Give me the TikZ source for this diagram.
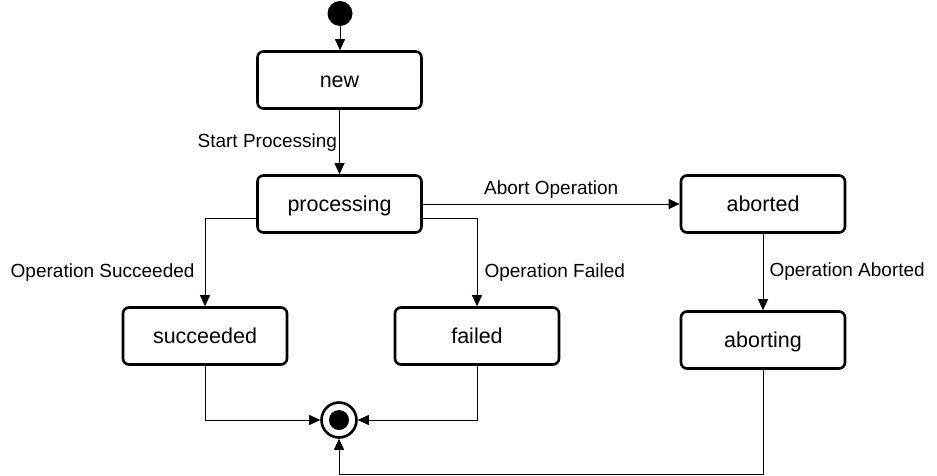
\documentclass[tikz,border=0pt]{standalone}
\usepackage{fontspec}
\setmainfont{Liberation Sans}
\usetikzlibrary{arrows.meta}
\begin{document}
\begin{tikzpicture}[x=1pt,y=-1pt,
  statebox/.style={draw=black, line width=2.6pt, rounded corners=6pt, fill=white,
    minimum width=164pt, minimum height=57pt, inner sep=0pt,
    text height=15pt, text depth=0pt,
    font=\fontsize{21.5}{25}\selectfont},
  conn/.style={draw=black, line width=1pt, -{Triangle[length=11pt,width=10pt]}},
  plain/.style={draw=black, line width=1pt},
  lbl/.style={font=\fontsize{19}{23}\selectfont, inner sep=0pt, text=black}]
\useasboundingbox (0,0) rectangle (937,475);
% initial and final
\node[circle, fill=black, minimum size=25pt, inner sep=0pt] (init) at (340,13.5) {};
\node[circle, draw=black, line width=2.6pt, minimum size=35pt, inner sep=0pt] (final) at (339,420) {};
\node[circle, fill=black, minimum size=20pt, inner sep=0pt] (finaldot) at (339,420) {};
% states
\node[statebox] (new) at (339.5,80) {new};
\node[statebox] (processing) at (339.5,204) {processing};
\node[statebox] (aborted) at (763,204) {aborted};
\node[statebox] (succeeded) at (205,336) {succeeded};
\node[statebox] (failed) at (477,336) {failed};
\node[statebox] (aborting) at (763,340) {aborting};
\coordinate (bottomturn) at (339,474);
% connectors
\draw[conn] (init) -- (init |- new.north);
\draw[conn] (new) -- node[lbl, anchor=east, xshift=-2pt, yshift=-1pt] {Start Processing} (processing);
\draw[conn] (processing) -- node[lbl, anchor=south, yshift=5pt] {Abort Operation} (aborted);
\draw[conn] ([yshift=-14pt]processing.west) -| node[lbl, pos=0.81, anchor=east, xshift=-10pt] {Operation Succeeded} (succeeded.north);
\draw[conn] ([yshift=-14pt]processing.east) -| node[lbl, pos=0.81, anchor=west, xshift=7pt] {Operation Failed} (failed.north);
\draw[conn] (aborted) -- node[lbl, anchor=west, xshift=6pt] {Operation Aborted} (aborting);
\draw[conn] (succeeded.south) |- (final.west);
\draw[conn] (failed.south) |- (final.east);
\draw[plain] (aborting.south) |- (bottomturn);
\draw[conn] (bottomturn) -- (final.south);
\end{tikzpicture}
\end{document}
